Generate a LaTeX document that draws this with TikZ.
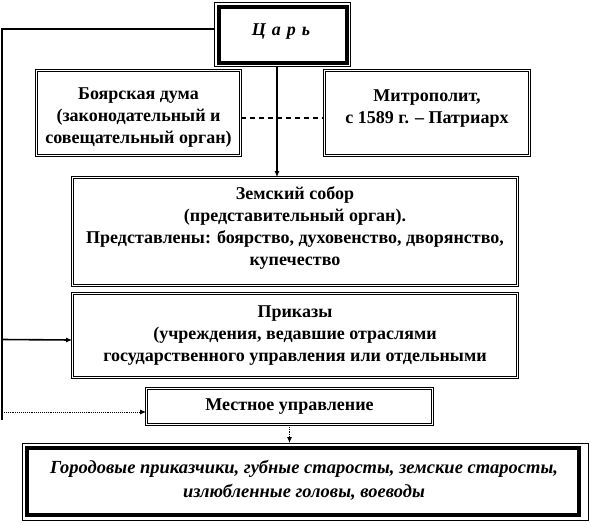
\documentclass[tikz,border=0pt]{standalone}
\usepackage{fontspec}
\setmainfont{Liberation Serif}
\usetikzlibrary{arrows.meta, positioning, calc}

\begin{document}
\begin{tikzpicture}[
    x=1pt, y=-1pt,
    every node/.style={font=\fontsize{18}{22}\selectfont\bfseries, align=center, inner sep=0pt},
    >={Latex[length=6pt,width=5pt]},
    dbox/.style={draw, double, double distance=1.6pt, line width=0.7pt},
    heavy/.style={draw, line width=0.6pt},
    link/.style={line width=1.6pt},
    dots/.style={line width=0.9pt, densely dotted},
]
\useasboundingbox (0,0) rectangle (594,525);

% --- Tsar ---
\node[heavy, minimum width=136.4pt, minimum height=64.4pt] (tsar) at (282.5,34.5) {};
\draw[line width=4pt] ([shift={(4.5pt,-4.5pt)}]tsar.north west) rectangle ([shift={(-4.5pt,4.5pt)}]tsar.south east);
\node[font=\fontsize{18}{22}\selectfont\bfseries\itshape] (tsartext) at (281,32) {Ц\,\,а\,\,р\,\,ь};

% --- Second row ---
\node[dbox, minimum width=204pt, minimum height=85pt, text height=64pt] (duma) at (138.5,113)
    {Боярская дума\\(законодательный и\\совещательный орган)};
\node[dbox, minimum width=205pt, minimum height=85pt, text depth=13pt] (mitr) at (427,113)
    {Митрополит,\\с 1589 г. -- Патриарх};

% --- Zemsky sobor and prikazy ---
\node[dbox, minimum width=445pt, minimum height=108pt, text depth=10pt] (sobor) at (295,231.5)
    {Земский собор\\(представительный орган).\\Представлены: боярство, духовенство, дворянство,\\купечество};
\node[dbox, minimum width=445pt, minimum height=84pt] (prikazy) at (295,335.5)
    {Приказы\\(учреждения, ведавшие отраслями\\государственного управления или отдельными};

% --- Local ---
\node[dbox, minimum width=286pt, minimum height=36pt] (mestnoe) at (289.5,406.5)
    {Местное управление};
\node[heavy, minimum width=566.4pt, minimum height=77.4pt] (gorod) at (305.5,482) {};
\draw[line width=4pt] ([shift={(4.5pt,-5pt)}]gorod.north west) rectangle ([shift={(-10pt,6pt)}]gorod.south east);
\node[font=\fontsize{18.5}{24}\selectfont\bfseries\itshape] (gorodtext) at (304,480)
    {Городовые приказчики, губные старосты, земские старосты,\\излюбленные головы, воеводы};

% --- Connectors ---
\coordinate (ltop) at (2,29);
\coordinate (lbot) at (2,420);
\draw[link] ([yshift=5.5pt]tsar.west) -- (ltop) -- (lbot);
\draw[link, ->] (prikazy.west -| ltop) ++(0,4) -- ([yshift=-4.5pt]prikazy.west);
\draw[dots, ->] ([yshift=-5.5pt]mestnoe.west -| ltop) -- ([yshift=-5.5pt]mestnoe.west);
\draw[link, ->] ([xshift=-5.5pt]tsar.south) -- ([xshift=-5.5pt]tsar.south |- sobor.north);
\draw[dots, line width=1.1pt, dash pattern=on 5pt off 4pt] ([yshift=-5pt]duma.east) -- ([yshift=-5pt]mitr.west);
\draw[dots, ->] (mestnoe.south) -- (mestnoe.south |- gorod.north);

\end{tikzpicture}
\end{document}
